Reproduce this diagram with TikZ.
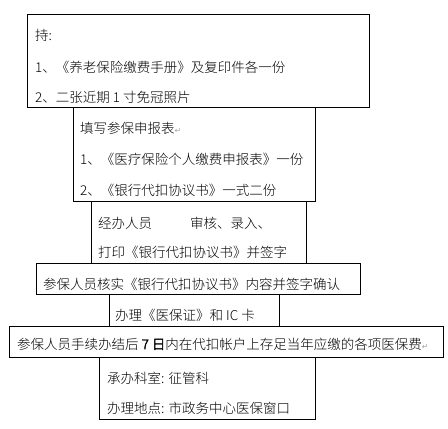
\documentclass[tikz,border=0pt]{standalone}
\usepackage{fontspec}
\IfFontExistsTF{Noto Sans CJK SC Light}
  {\newfontfamily\cjk[AutoFakeBold=2.5]{Noto Sans CJK SC Light}}
  {\newfontfamily\cjk[AutoFakeBold=2.5]{Noto Sans CJK SC}}
\newfontfamily\markfont{DejaVu Sans}
\usepackage{tikz}
\newcommand{\retmark}{{\markfont\color{gray!70}\fontsize{8}{8}\selectfont ↵}}
\tikzset{
  step box/.style={draw=black,line width=.9pt},
  step text/.style={anchor=west,inner sep=0pt,font=\cjk\fontsize{13.5}{16}\selectfont}
}

\begin{document}
\begin{tikzpicture}[x=1pt,y=-1pt]
  \useasboundingbox (0,0) rectangle (448,429);
  % boxes, top to bottom
  \draw[step box] (27,14) rectangle (369,107);
  \draw[step box] (73,107) rectangle (315,201);
  \draw[step box] (91,201) rectangle (306,263);
  \draw[step box] (36,263) rectangle (360,294);
  \draw[step box] (109,294) rectangle (279,326);
  \draw[step box] (9,326) rectangle (443,357);
  \draw[step box] (99,357) rectangle (315,419);
  % texts
  \node[step text] (hold) at (35,35) {持:};
  \node[step text] (hold1) at (35,67) {1、《养老保险缴费手册》及复印件各一份};
  \node[step text] (hold2) at (35,97) {2、二张近期 1 寸免冠照片};
  \node[step text] (form) at (80,128) {填写参保申报表\retmark};
  \node[step text] (form1) at (80,159) {1、《医疗保险个人缴费申报表》一份};
  \node[step text] (form2) at (80,190) {2、《银行代扣协议书》一式二份};
  \node[step text] (staff) at (98,223) {\makebox[92pt][l]{经办人员}审核、录入、};
  \node[step text] (print) at (98,252) {打印《银行代扣协议书》并签字};
  \node[step text] (check) at (43,284) {参保人员核实《银行代扣协议书》内容并签字确认};
  \node[step text] (card) at (115,315) {办理《医保证》和 IC 卡};
  \node[step text] (pay) at (17,344) {参保人员手续办结后 \textbf{7 日}内在代扣帐户上存足当年应缴的各项医保费\retmark};
  \node[step text] (dept) at (107,378) {承办科室: 征管科};
  \node[step text] (place) at (107,408) {办理地点: 市政务中心医保窗口};
\end{tikzpicture}
\end{document}
